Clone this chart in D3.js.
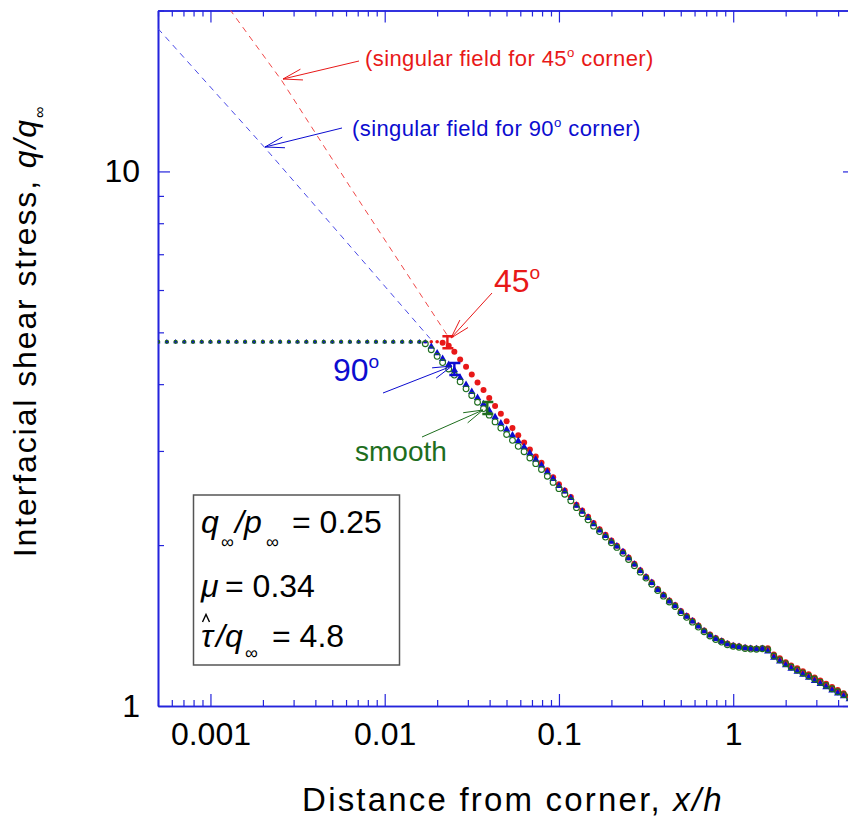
<!DOCTYPE html>
<html>
<head>
<meta charset="utf-8">
<script src="https://cdn.jsdelivr.net/npm/d3@7"></script>
<style>
body { margin: 0; background: #fff; }
text { font-family: "Liberation Sans", Arial, sans-serif; }
</style>
</head>
<body>
<svg id="chart" width="848" height="823"></svg>
<script>
// x/h sample positions (shared by the three runs)
const xs = [
	0.000501, 0.000562, 0.000631, 0.000708, 0.000794, 0.000891, 0.00100, 0.00112, 0.00126, 0.00141,
	0.00158, 0.00178, 0.00200, 0.00224, 0.00251, 0.00282, 0.00316, 0.00355, 0.00398, 0.00447,
	0.00501, 0.00562, 0.00631, 0.00708, 0.00794, 0.00891, 0.0100, 0.0112, 0.0126, 0.0141, 0.0158,
	0.0171, 0.0185, 0.0200, 0.0215, 0.0233, 0.0251, 0.0271, 0.0293, 0.0316, 0.0341, 0.0369, 0.0398,
	0.0430, 0.0464, 0.0501, 0.0541, 0.0584, 0.0631, 0.0681, 0.0736, 0.0794, 0.0858, 0.0926,
	0.100, 0.108, 0.117, 0.126, 0.136, 0.147, 0.158, 0.171, 0.185, 0.200, 0.215, 0.233, 0.251, 0.271,
	0.293, 0.316, 0.341, 0.369, 0.398, 0.430, 0.464, 0.501, 0.541, 0.584, 0.631, 0.681, 0.736, 0.794,
	0.858, 0.926,
	1.00, 1.08, 1.17, 1.26, 1.36, 1.47, 1.58, 1.71, 1.85, 2.00, 2.15, 2.33, 2.51, 2.71, 2.93, 3.16,
	3.41, 3.69, 3.98, 4.30, 4.64, 5.01
]

// 45 deg corner (red)
const q45 = [
	4.80, 4.80, 4.80, 4.80, 4.80, 4.80, 4.80, 4.80, 4.80, 4.80,
	4.80, 4.80, 4.80, 4.80, 4.80, 4.80, 4.80, 4.80, 4.80, 4.80,
	4.80, 4.80, 4.80, 4.80, 4.80, 4.80, 4.80, 4.80, 4.80, 4.80, 4.80,
	4.80, 4.80, 4.80, 4.78, 4.72, 4.60, 4.45, 4.31, 4.17, 4.03, 3.90, 3.77,
	3.64, 3.52, 3.41, 3.31, 3.21, 3.11, 3.02, 2.93, 2.85, 2.76, 2.68,
	2.60, 2.53, 2.46, 2.38, 2.32, 2.26, 2.20, 2.14, 2.09, 2.04, 1.995, 1.945, 1.895, 1.845,
	1.795, 1.745, 1.705, 1.655, 1.615, 1.575, 1.545, 1.505, 1.475, 1.445, 1.415, 1.385, 1.36, 1.34,
	1.324, 1.309,
	1.298, 1.293, 1.286, 1.283, 1.281, 1.283, 1.283, 1.248, 1.228, 1.208, 1.191, 1.176, 1.161, 1.146, 1.131, 1.116,
	1.101, 1.085, 1.071, 1.057, 1.044, 1.032
]

// 90 deg corner (blue)
const q90 = [
	4.80, 4.80, 4.80, 4.80, 4.80, 4.80, 4.80, 4.80, 4.80, 4.80,
	4.80, 4.80, 4.80, 4.80, 4.80, 4.80, 4.80, 4.80, 4.80, 4.80,
	4.80, 4.80, 4.80, 4.80, 4.80, 4.80, 4.80, 4.80, 4.80, 4.80, 4.80,
	4.80, 4.70, 4.57, 4.46, 4.35, 4.25, 4.11, 3.99, 3.87, 3.77, 3.67, 3.57,
	3.47, 3.38, 3.29, 3.21, 3.13, 3.05, 2.97, 2.89, 2.82, 2.74, 2.66,
	2.58, 2.52, 2.45, 2.37, 2.31, 2.25, 2.19, 2.13, 2.08, 2.03, 1.99, 1.94, 1.89, 1.84,
	1.79, 1.74, 1.70, 1.65, 1.61, 1.57, 1.54, 1.50, 1.47, 1.44, 1.41, 1.38, 1.355, 1.335,
	1.32, 1.305,
	1.295, 1.29, 1.283, 1.28, 1.278, 1.279, 1.266, 1.232, 1.212, 1.192, 1.175, 1.160, 1.145, 1.130, 1.115, 1.100,
	1.085, 1.070, 1.056, 1.043, 1.030, 1.018
]

// smooth contact (green)
const qSmooth = [
	4.80, 4.80, 4.80, 4.80, 4.80, 4.80, 4.80, 4.80, 4.80, 4.80,
	4.80, 4.80, 4.80, 4.80, 4.80, 4.80, 4.80, 4.80, 4.80, 4.80,
	4.80, 4.80, 4.80, 4.80, 4.80, 4.80, 4.80, 4.80, 4.80, 4.80, 4.80,
	4.76, 4.64, 4.51, 4.39, 4.27, 4.16, 4.04, 3.92, 3.81, 3.70, 3.60, 3.50,
	3.40, 3.31, 3.22, 3.14, 3.06, 2.99, 2.91, 2.84, 2.77, 2.69, 2.62,
	2.55, 2.49, 2.42, 2.35, 2.29, 2.23, 2.17, 2.12, 2.07, 2.02, 1.98, 1.93, 1.88, 1.83,
	1.78, 1.735, 1.69, 1.645, 1.605, 1.565, 1.535, 1.495, 1.465, 1.435, 1.405, 1.377, 1.352, 1.332,
	1.317, 1.302,
	1.293, 1.288, 1.281, 1.278, 1.277, 1.280, 1.275, 1.240, 1.220, 1.200, 1.183, 1.168, 1.153, 1.138, 1.123, 1.108,
	1.093, 1.077, 1.063, 1.050, 1.037, 1.025
]

// singular (asymptotic) fields, dashed
const sing45X = [0.00129, 0.00256, 0.00627, 0.0235]
const sing45Q = [20.1, 14.8, 9.40, 4.87]
const sing90X = [0.0005, 0.00204, 0.0182]
const sing90Q = [18.5, 11.1, 4.87]

// stick/slip boundary markers: 45, 90, smooth
const edgeX = [0.0229, 0.0251, 0.0388]
const edgeQ = [4.79, 4.27, 3.61]

const xMajor = [0.001, 0.01, 0.1, 1]
const xLabels = ['0.001', '0.01', '0.1', '1']
const yMajor = [1, 10]
const yLabels = ['1', '10']

const red = '#e81818', blue = '#0c0cd0', green = '#1e6e1e', axisBlue = '#2424dc'
const font = '"Liberation Sans", Arial, sans-serif'

const svg = d3.select('#chart')
svg.append('rect').attr('width', 848).attr('height', 823).attr('fill', '#fff')

const pLeft = 158, pRight = 855, pTop = 10.5, pBottom = 706
const x = d3.scaleLog().domain([0.0005, 5]).range([pLeft, pRight])
const y = d3.scaleLog().domain([1, 20]).range([pBottom, pTop])

svg.append('clipPath').attr('id', 'plot')
	.append('rect')
	.attr('x', pLeft).attr('y', pTop)
	.attr('width', pRight - pLeft).attr('height', pBottom - pTop)

// axes, ticks pointing inward
const isMajor = d => Math.abs(Math.log10(d) - Math.round(Math.log10(d))) < 1e-6
const xMinor = x.ticks().filter(d => !isMajor(d))
const yMinor = y.ticks().filter(d => !isMajor(d))

function styleAxis(g) {
	g.select('.domain').attr('stroke', axisBlue).attr('stroke-width', 1.6)
	g.selectAll('.tick line').attr('stroke', axisBlue).attr('stroke-width', 1.2)
	g.selectAll('.tick text')
		.attr('fill', '#000')
		.attr('font-size', 32)
		.attr('font-family', font)
}

const sides = [
	{axis: d3.axisBottom, scale: x, minor: xMinor, major: xMajor, labels: xLabels, at: `translate(0,${pBottom})`, pad: 16},
	{axis: d3.axisTop, scale: x, minor: xMinor, major: xMajor, labels: null, at: `translate(0,${pTop})`},
	{axis: d3.axisLeft, scale: y, minor: yMinor, major: yMajor, labels: yLabels, at: `translate(${pLeft},0)`, pad: 18},
	{axis: d3.axisRight, scale: y, minor: yMinor, major: yMajor, labels: null, at: `translate(${pRight},0)`}
]
sides.forEach(s => {
	svg.append('g').attr('transform', s.at)
		.call(s.axis(s.scale).tickValues(s.minor).tickSize(-6).tickSizeOuter(0).tickFormat(''))
		.call(styleAxis)
	svg.append('g').attr('transform', s.at)
		.call(s.axis(s.scale).tickValues(s.major).tickSize(-12).tickSizeOuter(0)
			.tickPadding(s.pad || 3)
			.tickFormat((d, i) => s.labels ? s.labels[i] : ''))
		.call(styleAxis)
})

const plot = svg.append('g').attr('clip-path', 'url(#plot)')

// dashed singular fields
const line = d3.line().x(d => x(d[0])).y(d => y(d[1]))
plot.append('path')
	.attr('d', line(sing90X.map((v, i) => [v, sing90Q[i]])))
	.attr('fill', 'none').attr('stroke', '#4a4ae6').attr('stroke-width', 1)
	.attr('stroke-dasharray', '6,5')
plot.append('path')
	.attr('d', line(sing45X.map((v, i) => [v, sing45Q[i]])))
	.attr('fill', 'none').attr('stroke', '#f04848').attr('stroke-width', 1)
	.attr('stroke-dasharray', '6,5')

const onPlateau = q => q >= 4.79

// red filled circles
plot.append('g').selectAll('circle')
	.data(xs.map((v, i) => [v, q45[i]]))
	.join('circle')
	.attr('cx', d => x(d[0])).attr('cy', d => y(d[1]))
	.attr('r', d => onPlateau(d[1]) ? 1.8 : 3)
	.attr('fill', red)

// blue filled triangles
const tri = d3.symbol().type(d3.symbolTriangle)
plot.append('g').selectAll('path')
	.data(xs.map((v, i) => [v, q90[i]]))
	.join('path')
	.attr('transform', d => `translate(${x(d[0])},${y(d[1])})`)
	.attr('d', d => tri.size(onPlateau(d[1]) ? 10 : 24)())
	.attr('fill', blue)

// green open circles
plot.append('g').selectAll('circle')
	.data(xs.map((v, i) => [v, qSmooth[i]]))
	.join('circle')
	.attr('cx', d => x(d[0])).attr('cy', d => y(d[1]))
	.attr('r', d => onPlateau(d[1]) ? 1.6 : 2.9)
	.attr('fill', 'none')
	.attr('stroke', green)
	.attr('stroke-width', 1.1)

// stick/slip edge markers
const edgeColors = [red, blue, green]
svg.append('g').selectAll('path')
	.data(edgeX.map((v, i) => [v, edgeQ[i], edgeColors[i]]))
	.join('path')
	.attr('d', d => {
		let cx = x(d[0]), cy = y(d[1])
		return `M${cx - 5},${cy - 6}h11M${cx},${cy - 6}v12M${cx - 5},${cy + 6}h11`
	})
	.attr('stroke', d => d[2]).attr('stroke-width', 2.4).attr('fill', 'none')

// annotation arrows (open heads)
function arrow(x1, y1, x2, y2, color) {
	let a = Math.atan2(y1 - y2, x1 - x2), len = 20, spread = 0.28
	let g = svg.append('g').attr('stroke', color).attr('stroke-width', 1).attr('fill', 'none')
	g.append('line').attr('x1', x1).attr('y1', y1).attr('x2', x2).attr('y2', y2)
	;[a - spread, a + spread].forEach(b => {
		g.append('line').attr('x1', x2).attr('y1', y2)
			.attr('x2', x2 + len * Math.cos(b)).attr('y2', y2 + len * Math.sin(b))
	})
}
arrow(359, 61, 283, 79, red)
arrow(342, 128, 265, 147, blue)
arrow(492, 293, 451, 338, red)
arrow(383, 393, 452, 366, blue)
arrow(422, 437, 483, 410, green)

function label(tx, ty, size, color, main, sup, rest, spacing) {
	let t = svg.append('text').attr('x', tx).attr('y', ty)
		.attr('font-size', size).attr('fill', color)
		.attr('letter-spacing', spacing || 0)
	t.append('tspan').text(main)
	if (sup) {
		t.append('tspan').attr('font-size', size * 0.6).attr('dy', -size * 0.42).text(sup)
		if (rest) t.append('tspan').attr('dy', size * 0.42).text(rest)
	}
	return t
}
label(365, 66, 22, red, '(singular field for 45', 'o', ' corner)', 0.4)
label(352, 136, 22, blue, '(singular field for 90', 'o', ' corner)', 0.4)
label(494, 292, 32, red, '45', 'o')
label(333, 381, 32, blue, '90', 'o')
label(355, 461, 28, green, 'smooth')

// parameter box
svg.append('rect')
	.attr('x', 193.5).attr('y', 495).attr('width', 206).attr('height', 170)
	.attr('fill', '#fff').attr('stroke', '#555').attr('stroke-width', 1.5)

function put(tx, ty, size, txt, italic) {
	svg.append('text').attr('x', tx).attr('y', ty)
		.attr('font-size', size).attr('fill', '#000')
		.attr('font-style', italic ? 'italic' : 'normal')
		.text(txt)
}
put(201, 533, 32, 'q', true)
put(221, 548, 18, '\u221e')
put(235, 533, 32, '/p', true)
put(266, 548, 18, '\u221e')
put(292, 533, 32, '= 0.25')
put(201, 597, 32, '\u03bc', true)
put(225, 597, 32, '= 0.34')
// hat over tau
svg.append('path').attr('d', 'M202.5,622L206,614.5L209.5,622')
	.attr('fill', 'none').attr('stroke', '#000').attr('stroke-width', 1.4)
put(201, 647, 32, '\u03c4', true)
put(216, 647, 32, '/q', true)
put(245, 659, 18, '\u221e')
put(272, 647, 32, '= 4.8')

// axis titles
let xt = svg.append('text').attr('x', 513).attr('y', 811)
	.attr('text-anchor', 'middle').attr('font-size', 33).attr('fill', '#000')
	.attr('letter-spacing', 2.2)
xt.append('tspan').text('Distance from corner, ')
xt.append('tspan').attr('font-style', 'italic').text('x/h')

let yt = svg.append('text')
	.attr('transform', 'translate(36,331) rotate(-90)')
	.attr('text-anchor', 'middle').attr('font-size', 32).attr('fill', '#000')
	.attr('letter-spacing', 1.9)
yt.append('tspan').text('Interfacial shear stress, ')
yt.append('tspan').attr('font-style', 'italic').text('q/q')
yt.append('tspan').attr('font-size', 16).attr('dy', 9).text('\u221e')
</script>
</body>
</html>
